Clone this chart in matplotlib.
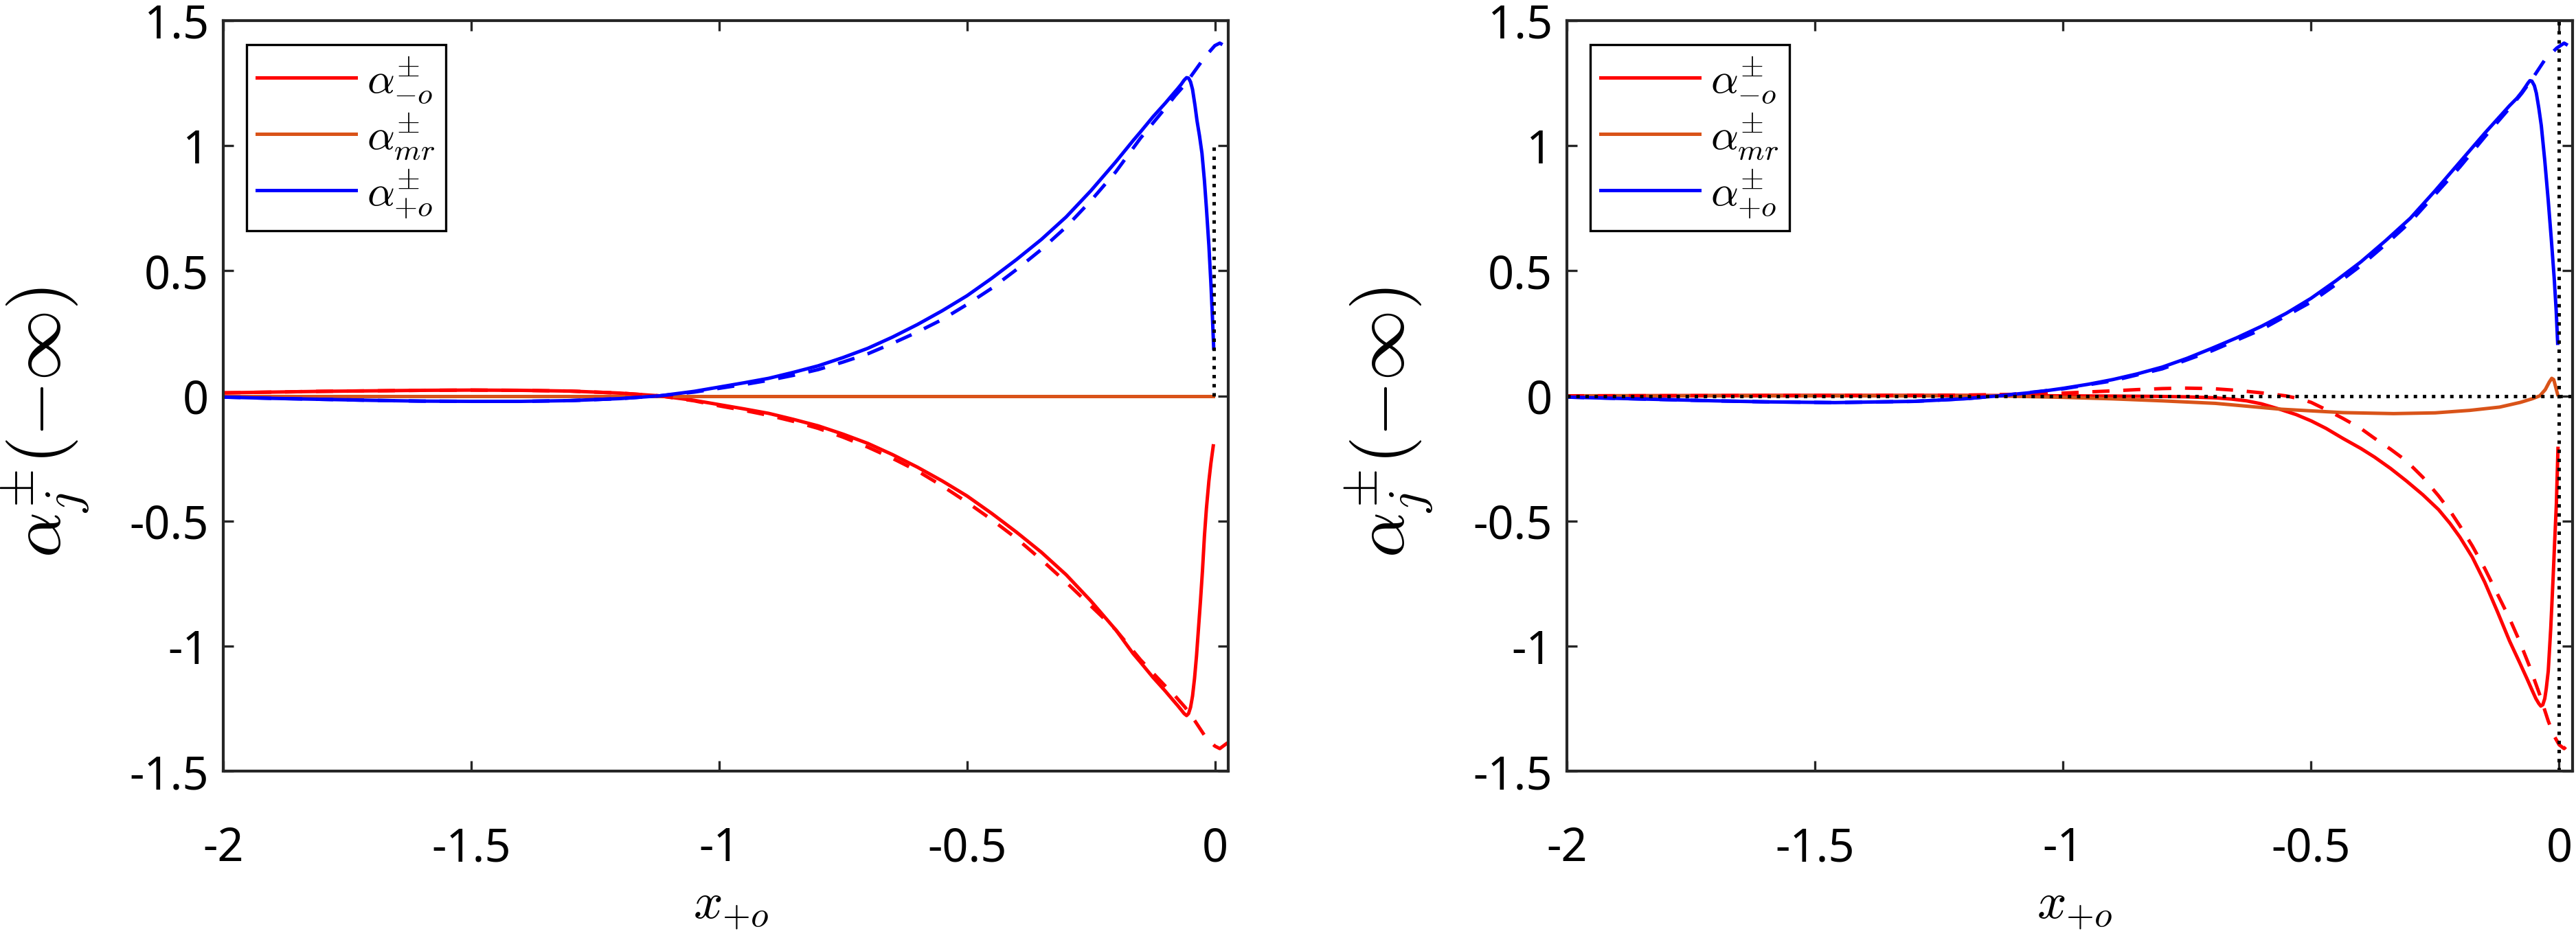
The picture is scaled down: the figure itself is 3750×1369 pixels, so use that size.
import matplotlib
matplotlib.use("Agg")
import matplotlib.pyplot as plt

plt.rcParams['font.family'] = ['Noto Sans', 'DejaVu Sans']
plt.rcParams['mathtext.fontset'] = 'cm'
plt.rcParams['axes.unicode_minus'] = False

# ---------------- data ----------------
xticks = [-2, -1.5, -1, -0.5, 0]
xtick_labels = ['-2', '-1.5', '-1', '-0.5', '0']
yticks = [-1.5, -1, -0.5, 0, 0.5, 1, 1.5]
ytick_labels = ['-1.5', '-1', '-0.5', '0', '0.5', '1', '1.5']
legend_labels = [r'$\alpha^{\pm}_{-o}$', r'$\alpha^{\pm}_{mr}$', r'$\alpha^{\pm}_{+o}$']

# ---- left panel ----
L_blue_x = [-2.0, -1.9, -1.8, -1.7, -1.6, -1.5, -1.4, -1.3, -1.2, -1.12, -1.05, -1.0, -0.95, -0.9,
            -0.85, -0.8, -0.75, -0.7, -0.65, -0.6, -0.55, -0.5, -0.45, -0.4, -0.35, -0.3, -0.25,
            -0.2, -0.165, -0.15, -0.125, -0.1, -0.085, -0.075, -0.068, -0.062, -0.057, -0.053,
            -0.049, -0.045, -0.04, -0.036, -0.031, -0.026, -0.021, -0.017, -0.012, -0.008,
            -0.005, -0.0023]
L_blue_y = [-0.005, -0.01, -0.014, -0.018, -0.021, -0.022, -0.022, -0.019, -0.011, 0.0, 0.018, 0.035,
            0.052, 0.07, 0.094, 0.12, 0.153, 0.19, 0.235, 0.285, 0.34, 0.40, 0.47, 0.545, 0.625,
            0.715, 0.82, 0.935, 1.02, 1.055, 1.115, 1.17, 1.205, 1.228, 1.245, 1.262, 1.272,
            1.27, 1.255, 1.225, 1.16, 1.10, 1.04, 0.97, 0.86, 0.75, 0.6, 0.45, 0.32, 0.19]
L_blue_dash_x = [-2.0, -1.9, -1.8, -1.7, -1.6, -1.5, -1.4, -1.3, -1.2, -1.12, -1.05, -1.0, -0.95,
                 -0.9, -0.85, -0.8, -0.75, -0.7, -0.65, -0.6, -0.55, -0.5, -0.45, -0.4, -0.35,
                 -0.3, -0.25, -0.2, -0.15, -0.1, -0.08, -0.06, -0.04, -0.02, 0.0, 0.01, 0.027]
L_blue_dash_y = [-0.005, -0.01, -0.014, -0.018, -0.021, -0.022, -0.022, -0.019, -0.011, 0.0, 0.015,
                 0.03, 0.045, 0.062, 0.082, 0.105, 0.135, 0.168, 0.21, 0.255, 0.305, 0.365, 0.43,
                 0.505, 0.585, 0.675, 0.78, 0.895, 1.03, 1.15, 1.2, 1.245, 1.3, 1.355, 1.40,
                 1.41, 1.39]
L_red_x = [-2.0, -1.9, -1.8, -1.7, -1.6, -1.5, -1.4, -1.3, -1.2, -1.12, -1.05, -1.0, -0.95, -0.9,
           -0.85, -0.8, -0.75, -0.7, -0.65, -0.6, -0.55, -0.5, -0.45, -0.4, -0.35, -0.3, -0.25,
           -0.2, -0.165, -0.15, -0.125, -0.1, -0.085, -0.075, -0.068, -0.062, -0.057, -0.053,
           -0.049, -0.045, -0.041, -0.037, -0.033, -0.029, -0.025, -0.021, -0.017, -0.012,
           -0.008, -0.0032]
L_red_y = [0.012, 0.015, 0.018, 0.02, 0.022, 0.023, 0.022, 0.019, 0.011, 0.0, -0.018, -0.035,
           -0.052, -0.07, -0.094, -0.12, -0.153, -0.19, -0.235, -0.285, -0.34, -0.40, -0.47,
           -0.545, -0.625, -0.715, -0.82, -0.935, -1.03, -1.065, -1.125, -1.18, -1.215, -1.238,
           -1.255, -1.27, -1.278, -1.27, -1.245, -1.2, -1.13, -1.04, -0.93, -0.82, -0.7,
           -0.56, -0.45, -0.34, -0.27, -0.2]
L_red_dash_x = L_blue_dash_x
L_red_dash_y = [0.012, 0.015, 0.018, 0.02, 0.022, 0.023, 0.022, 0.019, 0.011, 0.0, -0.02, -0.04,
                -0.058, -0.078, -0.102, -0.13, -0.165, -0.205, -0.25, -0.3, -0.36, -0.425,
                -0.495, -0.57, -0.655, -0.745, -0.84, -0.935, -1.055, -1.16, -1.2, -1.245, -1.3,
                -1.36, -1.40, -1.41, -1.385]
L_orange_x = [-2.0, -0.004]
L_orange_y = [0.0, 0.0]
L_vline_x = [-0.002, -0.002]
L_vline_y = [0.0, 1.0]

# ---- right panel ----
R_blue_x = [-2.0, -1.9, -1.8, -1.7, -1.6, -1.46, -1.3, -1.2, -1.13, -1.05, -1.0, -0.95, -0.9, -0.85,
            -0.8, -0.75, -0.7, -0.65, -0.6, -0.55, -0.5, -0.45, -0.4, -0.35, -0.3, -0.25, -0.2,
            -0.15, -0.1, -0.085, -0.075, -0.068, -0.063, -0.059, -0.055, -0.05, -0.046, -0.041,
            -0.036, -0.029, -0.022, -0.016, -0.010, -0.006, -0.003]
R_blue_y = [-0.005, -0.01, -0.015, -0.02, -0.024, -0.027, -0.022, -0.012, 0.0, 0.016, 0.03, 0.046,
            0.065, 0.088, 0.115, 0.15, 0.19, 0.232, 0.278, 0.33, 0.39, 0.46, 0.535, 0.62, 0.71,
            0.82, 0.935, 1.05, 1.16, 1.19, 1.215, 1.235, 1.25, 1.26, 1.258, 1.24, 1.21, 1.15,
            1.08, 0.94, 0.78, 0.63, 0.47, 0.34, 0.21]
R_blue_dash_x = [-2.0, -1.9, -1.8, -1.7, -1.6, -1.46, -1.3, -1.2, -1.13, -1.0, -0.9, -0.8, -0.7,
                 -0.6, -0.5, -0.45, -0.4, -0.35, -0.3, -0.25, -0.2, -0.15, -0.1, -0.075, -0.05,
                 -0.03, -0.015, -0.005, 0.01, 0.027]
R_blue_dash_y = [-0.005, -0.01, -0.015, -0.02, -0.024, -0.027, -0.022, -0.012, 0.0, 0.028, 0.06,
                 0.108, 0.18, 0.265, 0.375, 0.445, 0.52, 0.605, 0.695, 0.805, 0.915, 1.035, 1.15,
                 1.21, 1.28, 1.34, 1.37, 1.39, 1.41, 1.39]
R_red_x = [-2.0, -1.6, -1.2, -1.0, -0.9, -0.82, -0.75, -0.693, -0.66, -0.63, -0.6, -0.564, -0.53,
           -0.5, -0.47, -0.436, -0.4, -0.372, -0.34, -0.308, -0.275, -0.243, -0.22, -0.2, -0.175,
           -0.15, -0.125, -0.1, -0.08, -0.065, -0.055, -0.047, -0.041, -0.037, -0.033, -0.029,
           -0.026, -0.022, -0.017, -0.0125, -0.009, -0.0056, -0.0024]
R_red_y = [0.0, 0.002, 0.002, 0.0, -0.001, -0.002, -0.004, -0.008, -0.013, -0.02, -0.032, -0.053,
           -0.075, -0.1, -0.13, -0.17, -0.21, -0.245, -0.29, -0.34, -0.395, -0.455, -0.51,
           -0.565, -0.645, -0.745, -0.86, -0.98, -1.065, -1.13, -1.175, -1.21, -1.23, -1.24,
           -1.235, -1.21, -1.17, -1.10, -0.93, -0.74, -0.58, -0.43, -0.21]
R_red_dash_x = [-2.0, -1.6, -1.3, -1.2, -1.1, -1.0, -0.9, -0.85, -0.8, -0.756, -0.7, -0.65, -0.6,
                -0.551, -0.525, -0.5, -0.47, -0.436, -0.4, -0.372, -0.34, -0.308, -0.275, -0.243,
                -0.22, -0.2, -0.175, -0.15, -0.125, -0.1, -0.08, -0.06, -0.04, -0.022, -0.01, 0.0,
                0.01, 0.027]
R_red_dash_y = [0.0, 0.001, 0.002, 0.003, 0.006, 0.011, 0.02, 0.025, 0.029, 0.031, 0.029, 0.022,
                0.012, 0.0, -0.011, -0.026, -0.055, -0.09, -0.13, -0.17, -0.213, -0.26, -0.325,
                -0.4, -0.46, -0.52, -0.6, -0.69, -0.79, -0.89, -0.98, -1.08, -1.19, -1.3, -1.36,
                -1.395, -1.41, -1.375]
R_orange_x = [-2.0, -1.5, -1.14, -1.0, -0.9, -0.8, -0.693, -0.564, -0.436, -0.334, -0.25, -0.18,
              -0.12, -0.078, -0.055, -0.039, -0.028, -0.02, -0.015, -0.011, -0.007, -0.003]
R_orange_y = [0.0, 0.0, 0.0, -0.006, -0.012, -0.02, -0.03, -0.053, -0.067, -0.071, -0.068, -0.058,
              -0.045, -0.026, -0.012, 0.0, 0.025, 0.055, 0.07, 0.065, 0.035, 0.005]
R_hline_x = [-2.0, 0.027]
R_hline_y = [0.0, 0.0]
R_vline_x = [0.0, 0.0]
R_vline_y = [-1.5, 1.5]

RED = '#ff0000'
ORANGE = '#d95319'
BLUE = '#0000ff'
SPINE = '#262626'
LW = 1.2

fig = plt.figure(figsize=(12.5, 1369 / 300), dpi=300)
axL = fig.add_axes([325 / 3750, 1 - 1123 / 1369, 1463 / 3750, 1093 / 1369])
axR = fig.add_axes([2281 / 3750, 1 - 1123 / 1369, 1464 / 3750, 1093 / 1369])


def style(ax):
    ax.set_xlim(-2, 0.027)
    ax.set_ylim(-1.5, 1.5)
    ax.set_xticks(xticks)
    ax.set_xticklabels(xtick_labels)
    ax.set_yticks(yticks)
    ax.set_yticklabels(ytick_labels)
    ax.tick_params(direction='in', top=True, right=True, length=3.6, width=0.8,
                   color=SPINE, labelsize=16, labelcolor='black')
    ax.tick_params(axis='x', pad=19)
    ax.tick_params(axis='y', pad=5)
    for s in ax.spines.values():
        s.set_color(SPINE)
        s.set_linewidth(1.0)
    ax.set_xlabel(r'$x_{+o}$', fontsize=18)
    ax.xaxis.set_label_coords(0.505, -0.145)
    ax.set_ylabel(r'$\alpha_j^{\pm}(-\infty)$', fontsize=25)
    ax.yaxis.set_label_coords(-0.132, 0.465)


# left
l1, = axL.plot(L_red_x, L_red_y, color=RED, lw=LW)
l2, = axL.plot(L_orange_x, L_orange_y, color=ORANGE, lw=LW)
l3, = axL.plot(L_blue_x, L_blue_y, color=BLUE, lw=LW)
axL.plot(L_red_dash_x, L_red_dash_y, color=RED, lw=LW, ls=(0, (5, 4)))
axL.plot(L_blue_dash_x, L_blue_dash_y, color=BLUE, lw=LW, ls=(0, (5, 4)))
axL.plot(L_vline_x, L_vline_y, color='black', lw=LW, ls=':')
style(axL)

# right
r1, = axR.plot(R_red_x, R_red_y, color=RED, lw=LW)
r2, = axR.plot(R_orange_x, R_orange_y, color=ORANGE, lw=LW)
r3, = axR.plot(R_blue_x, R_blue_y, color=BLUE, lw=LW)
axR.plot(R_red_dash_x, R_red_dash_y, color=RED, lw=LW, ls=(0, (5, 4)))
axR.plot(R_blue_dash_x, R_blue_dash_y, color=BLUE, lw=LW, ls=(0, (5, 4)))
axR.plot(R_hline_x, R_hline_y, color='black', lw=LW, ls=':')
axR.plot(R_vline_x, R_vline_y, color='black', lw=LW, ls=':')
style(axR)

for ax, hs in ((axL, (l1, l2, l3)), (axR, (r1, r2, r3))):
    leg = ax.legend(hs, legend_labels, loc='upper left', bbox_to_anchor=(0.023, 0.968),
                    borderaxespad=0, fontsize=15, handlelength=2.3, handletextpad=0.25,
                    labelspacing=0.15, borderpad=0.25, fancybox=False, framealpha=1)
    leg.get_frame().set_edgecolor('black')
    leg.get_frame().set_linewidth(0.8)

fig.savefig('out.png', dpi=300)
